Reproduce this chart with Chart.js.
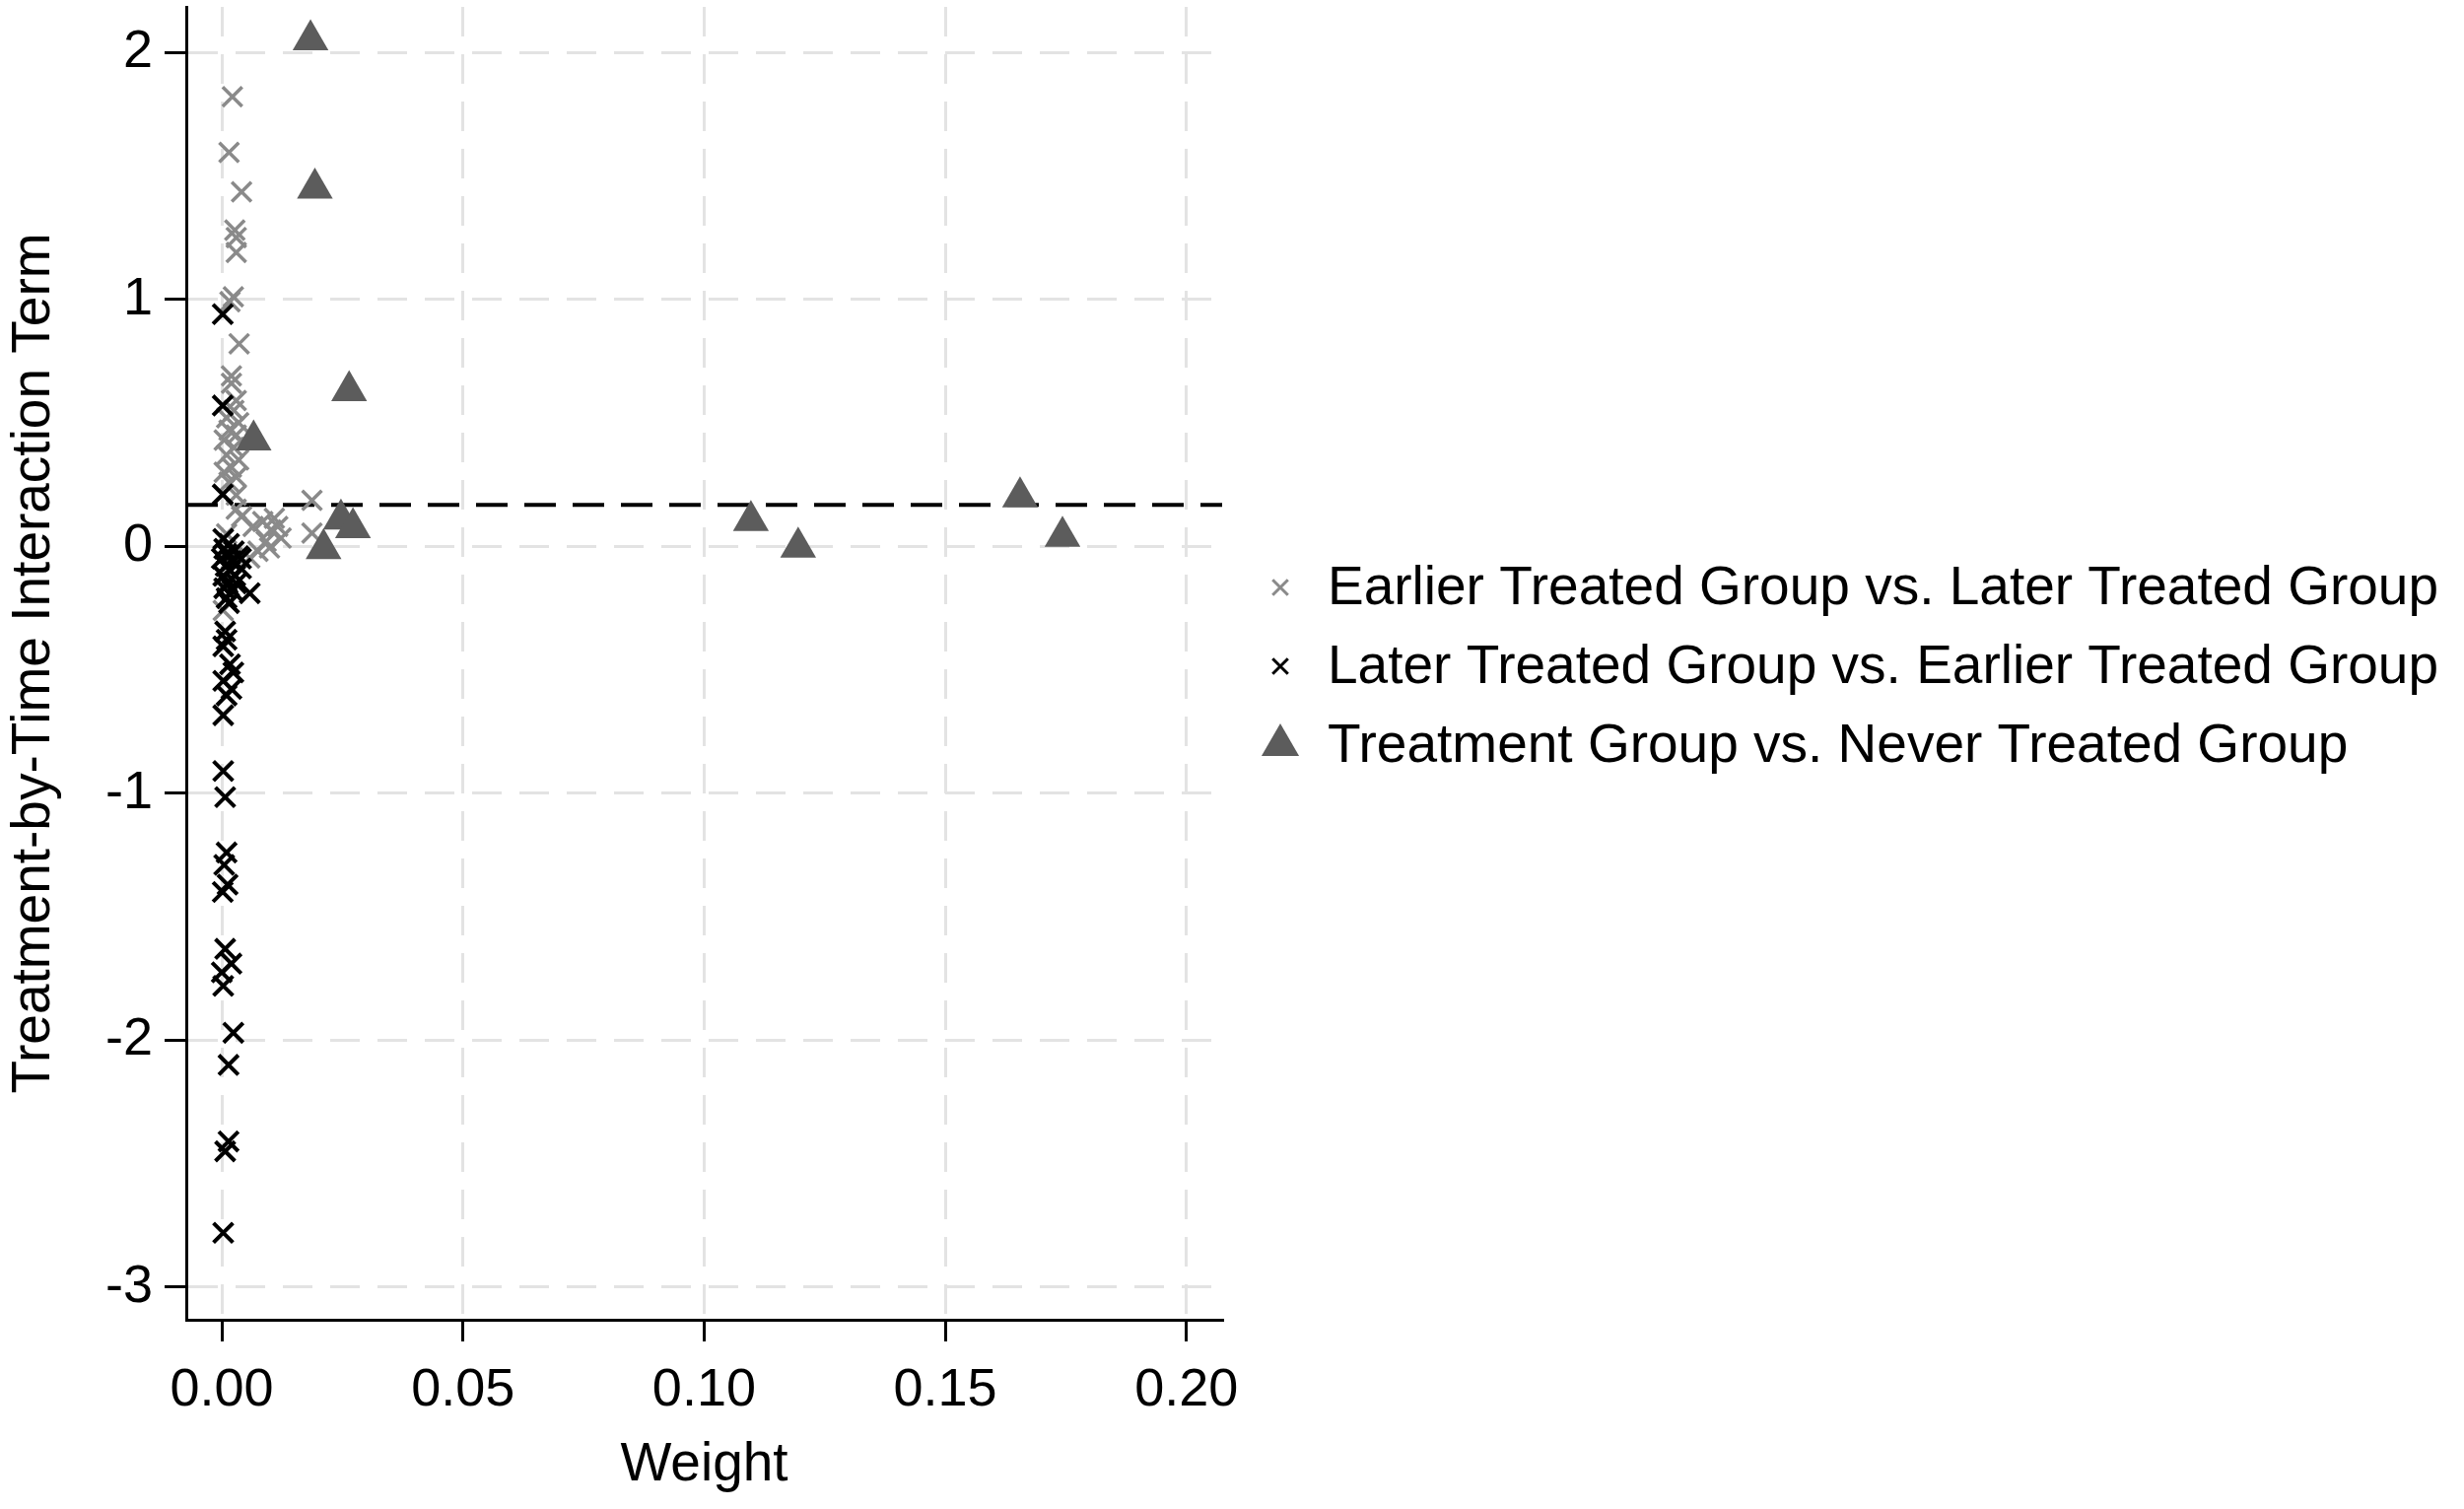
<!DOCTYPE html>
<html><head><meta charset="utf-8">
<script src="https://cdn.jsdelivr.net/npm/chart.js@4.4.0/dist/chart.umd.min.js"></script>
<style>html,body{margin:0;padding:0;background:#fff;}</style>
</head><body>
<canvas id="c" width="2500" height="1531"></canvas>
<script>
// ---------- data ----------
const seriesNames = [
  "Earlier Treated Group vs. Later Treated Group",
  "Later Treated Group vs. Earlier Treated Group",
  "Treatment Group vs. Never Treated Group"
];
const earlierX = [0.0022,0.0015,0.0041,0.0027,0.0030,0.0030,0.0024,0.0017,0.0036,0.0020,0.0020,0.0030,0.0025,0.0010,0.0035,0.0015,0.0030,0.0005,0.0025,0.0010,0.0035,0.0020,0.0005,0.0030,0.0015,0.0030,0.0187,0.0187,0.0041,0.0065,0.0085,0.0109,0.0102,0.0116,0.0092,0.0075,0.0099,0.0058,0.0123,0.0030,0.0010,0.0020,0.0005,0.0003];
const earlierY = [1.82,1.595,1.435,1.28,1.25,1.19,1.01,0.99,0.82,0.69,0.66,0.59,0.55,0.52,0.50,0.47,0.45,0.43,0.40,0.37,0.35,0.32,0.30,0.28,0.26,0.207,0.186,0.053,0.12,0.08,0.10,0.113,0.066,0.08,0.02,-0.02,-0.007,-0.047,0.033,0.15,0.05,-0.05,-0.12,-0.26];
const laterX = [0.0002,0.0002,0.0002,0.0003,0.0015,0.0005,0.0025,0.0010,0.0000,0.0020,0.0035,0.0008,0.0018,0.0003,0.0028,0.0012,0.0040,0.0005,0.0022,0.0010,0.0030,0.0058,0.0015,0.0040,0.0007,0.0010,0.0003,0.0017,0.0024,0.0003,0.0020,0.0010,0.0003,0.0003,0.0007,0.0010,0.0005,0.0012,0.0002,0.0007,0.0020,0.0000,0.0003,0.0024,0.0014,0.0014,0.0007,0.0003];
const laterY = [0.94,0.57,0.21,0.03,0.01,-0.01,-0.02,-0.03,-0.05,-0.06,-0.04,-0.08,-0.10,-0.12,-0.12,-0.15,-0.09,-0.17,-0.18,-0.21,-0.15,-0.19,-0.23,-0.05,-0.345,-0.378,-0.405,-0.478,-0.511,-0.545,-0.578,-0.604,-0.684,-0.91,-1.016,-1.24,-1.29,-1.37,-1.40,-1.63,-1.69,-1.725,-1.78,-1.97,-2.10,-2.41,-2.45,-2.78];
const neverX = [0.0184,0.0193,0.0264,0.0066,0.0247,0.0272,0.0211,0.1097,0.1195,0.1655,0.1743];
const neverY = [2.05,1.45,0.63,0.43,0.11,0.075,-0.01,0.104,-0.004,0.199,0.04];
const refLineY = 0.168;
const xTicks = [0, 0.05, 0.10, 0.15, 0.20];
const xTickLabels = ["0.00","0.05","0.10","0.15","0.20"];
const yTicks = [-3, -2, -1, 0, 1, 2];
const yTickLabels = ["-3","-2","-1","0","1","2"];
const xRange = [-0.00736, 0.2074];
const yRange = [-3.132, 2.184];
const axisTitles = {x: "Weight", y: "Treatment-by-Time Interaction Term"};

// ---------- styles ----------
const FONT = '"Liberation Sans", Arial, Helvetica, sans-serif';
const colGray = '#8a8a8a', colBlack = '#000000', colTri = '#5c5c5c', colGrid = '#e3e3e3';
const pts = (xs, ys) => xs.map((x, i) => ({x, y: ys[i]}));

const legendPlugin = {
  id: 'customLegend',
  afterDraw(chart) {
    const ctx = chart.ctx;
    const ca = chart.chartArea;
    const mx = ca.right + 59, tx = ca.right + 107, y0 = 596, dy = 80;
    const styles = [
      {style: 'crossRot', color: colGray, r: 11, w: 3},
      {style: 'crossRot', color: colBlack, r: 11, w: 3},
      {style: 'triangle', color: colTri, r: 22, w: 0}
    ];
    ctx.save();
    styles.forEach((s, i) => {
      const y = y0 + i * dy;
      ctx.beginPath();
      if (s.style === 'crossRot') {
        const o = s.r * Math.cos(Math.PI / 4);
        ctx.moveTo(mx - o, y - o); ctx.lineTo(mx + o, y + o);
        ctx.moveTo(mx - o, y + o); ctx.lineTo(mx + o, y - o);
        ctx.strokeStyle = s.color; ctx.lineWidth = s.w; ctx.stroke();
      } else {
        let rad = 0;
        ctx.moveTo(mx + Math.sin(rad) * s.r, y - Math.cos(rad) * s.r);
        rad += 2 * Math.PI / 3;
        ctx.lineTo(mx + Math.sin(rad) * s.r, y - Math.cos(rad) * s.r);
        rad += 2 * Math.PI / 3;
        ctx.lineTo(mx + Math.sin(rad) * s.r, y - Math.cos(rad) * s.r);
        ctx.closePath();
        ctx.fillStyle = s.color; ctx.fill();
      }
      ctx.fillStyle = '#000';
      ctx.font = '55px ' + FONT;
      ctx.textBaseline = 'middle';
      ctx.textAlign = 'left';
      ctx.fillText(seriesNames[i], tx, y + 2);
    });
    ctx.restore();
  }
};

new Chart(document.getElementById('c'), {
  type: 'scatter',
  data: {
    datasets: [
      {
        label: 'ref', data: [{x: xRange[0], y: refLineY}, {x: xRange[1], y: refLineY}],
        showLine: true, pointRadius: 0, borderColor: '#000', borderWidth: 4,
        borderDash: [32, 17], order: 4
      },
      {
        label: seriesNames[0], data: pts(earlierX, earlierY),
        pointStyle: 'crossRot', pointRadius: 14, borderColor: colGray,
        backgroundColor: colGray, pointBorderWidth: 3.5, order: 3
      },
      {
        label: seriesNames[1], data: pts(laterX, laterY),
        pointStyle: 'crossRot', pointRadius: 14, borderColor: colBlack,
        backgroundColor: colBlack, pointBorderWidth: 4, order: 2
      },
      {
        label: seriesNames[2], data: pts(neverX, neverY),
        pointStyle: 'triangle', pointRadius: 21, borderColor: colTri,
        backgroundColor: colTri, pointBorderWidth: 0, order: 1
      }
    ]
  },
  options: {
    responsive: false,
    animation: false,
    events: [],
    layout: {autoPadding: false, padding: {left: 0, top: 7, right: 1260, bottom: 0}},
    plugins: {legend: {display: false}, tooltip: {enabled: false}},
    scales: {
      x: {
        type: 'linear', min: xRange[0], max: xRange[1],
        afterFit(s) { s.height = 192; s.paddingLeft = 0; s.paddingRight = 0; },
        afterBuildTicks(s) { s.ticks = xTicks.map(v => ({value: v})); },
        ticks: {
          autoSkip: false, maxRotation: 0, minRotation: 0, padding: 18,
          color: '#000', font: {family: FONT, size: 54},
          callback: (v, i) => xTickLabels[i]
        },
        grid: {color: colGrid, lineWidth: 3, drawTicks: true, tickLength: 22, tickColor: '#000', tickWidth: 3},
        border: {display: true, color: '#000', width: 3, dash: [30, 18]},
        title: {display: true, text: axisTitles.x, color: '#000', font: {family: FONT, size: 55}, padding: {top: 0, bottom: 11}}
      },
      y: {
        type: 'linear', min: yRange[0], max: yRange[1],
        afterFit(s) { s.width = 189; s.paddingTop = 0; s.paddingBottom = 0; },
        afterBuildTicks(s) { s.ticks = yTicks.map(v => ({value: v})); },
        ticks: {
          autoSkip: false, padding: 12,
          color: '#000', font: {family: FONT, size: 54},
          callback: (v, i) => yTickLabels[i]
        },
        grid: {color: colGrid, lineWidth: 3, drawTicks: true, tickLength: 22, tickColor: '#000', tickWidth: 3},
        border: {display: true, color: '#000', width: 3, dash: [30, 18]},
        title: {display: true, text: axisTitles.y, color: '#000', font: {family: FONT, size: 55}, padding: {top: 2, bottom: 0}}
      }
    }
  },
  plugins: [legendPlugin]
});
</script>
</body></html>
